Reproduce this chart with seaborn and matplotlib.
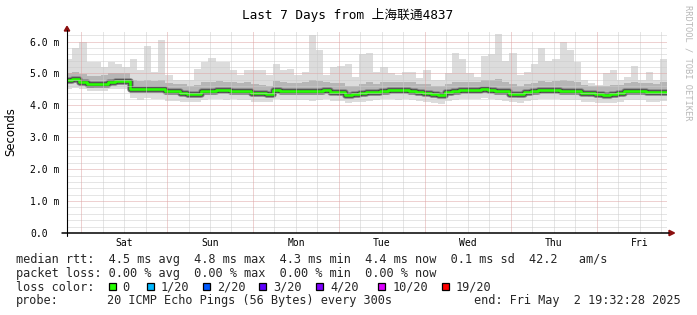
import numpy as np
import pandas as pd
import matplotlib
matplotlib.use("Agg")
import matplotlib.pyplot as plt
from matplotlib.patches import Rectangle, Polygon
from matplotlib.lines import Line2D
import seaborn as sns

# ---------------- data ----------------
title = "Last 7 Days from 上海联通4837"
day_labels = ["Sat", "Sun", "Mon", "Tue", "Wed", "Thu", "Fri"]
y_tick_values = [0, 1, 2, 3, 4, 5, 6]
y_tick_labels = ["0.0", "1.0 m", "2.0 m", "3.0 m", "4.0 m", "5.0 m", "6.0 m"]
bin_hours = 2  # each value covers 2 hours, starting Fri Apr 25 19:32:28
first_midnight_h = 4.459  # hours from start to Sat 00:00

rtt_median = [4.79, 4.82, 4.72, 4.66, 4.67, 4.68, 4.74, 4.76, 4.76, 4.50,
              4.50, 4.50, 4.50, 4.51, 4.45, 4.44, 4.40, 4.36, 4.35, 4.45,
              4.46, 4.47, 4.47, 4.46, 4.45, 4.44, 4.39, 4.38, 4.35, 4.48,
              4.46, 4.44, 4.44, 4.45, 4.45, 4.46, 4.47, 4.43, 4.41, 4.34,
              4.36, 4.38, 4.42, 4.42, 4.46, 4.47, 4.47, 4.47, 4.46, 4.41,
              4.40, 4.35, 4.34, 4.42, 4.45, 4.47, 4.47, 4.48, 4.50, 4.48,
              4.46, 4.44, 4.37, 4.36, 4.41, 4.44, 4.47, 4.47, 4.47, 4.46,
              4.45, 4.45, 4.40, 4.39, 4.35, 4.34, 4.35, 4.39, 4.44, 4.45,
              4.45, 4.43, 4.43, 4.41]

rtt_max = [5.45, 5.80, 6.00, 5.35, 5.35, 5.20, 5.35, 5.30, 5.20, 5.45,
           5.10, 5.85, 5.05, 6.05, 4.95, 4.80, 4.80, 4.80, 5.15, 5.35,
           5.50, 5.35, 5.35, 5.10, 4.95, 5.10, 5.10, 5.10, 4.95, 5.30,
           5.10, 5.15, 4.95, 5.05, 6.20, 5.75, 4.95, 5.20, 5.25, 5.30,
           4.90, 5.60, 5.65, 5.05, 5.20, 5.00, 4.95, 5.05, 5.05, 4.85,
           5.10, 4.80, 4.80, 5.00, 5.65, 5.45, 5.00, 4.90, 5.55, 5.60,
           6.25, 5.40, 5.65, 4.95, 5.05, 5.30, 5.80, 5.40, 5.45, 6.00,
           5.75, 5.35, 4.80, 4.70, 4.65, 5.00, 5.10, 4.80, 4.90, 5.25,
           4.80, 5.05, 4.80, 5.45]

rtt_p80 = [5.02, 5.05, 4.98, 4.92, 4.93, 4.95, 5.00, 5.00, 5.00, 4.78,
           4.76, 4.80, 4.75, 4.80, 4.70, 4.68, 4.66, 4.62, 4.65, 4.72,
           4.74, 4.76, 4.74, 4.72, 4.70, 4.72, 4.66, 4.64, 4.62, 4.76,
           4.72, 4.70, 4.70, 4.72, 4.78, 4.76, 4.72, 4.70, 4.70, 4.62,
           4.62, 4.68, 4.72, 4.68, 4.72, 4.72, 4.72, 4.74, 4.72, 4.66,
           4.66, 4.60, 4.60, 4.68, 4.74, 4.74, 4.72, 4.74, 4.78, 4.80,
           4.82, 4.72, 4.66, 4.62, 4.66, 4.70, 4.76, 4.74, 4.76, 4.80,
           4.76, 4.72, 4.64, 4.62, 4.60, 4.62, 4.64, 4.64, 4.70, 4.72,
           4.70, 4.70, 4.68, 4.72]

rtt_p20 = [4.68, 4.70, 4.62, 4.56, 4.57, 4.58, 4.63, 4.65, 4.65, 4.38,
           4.38, 4.38, 4.38, 4.39, 4.33, 4.32, 4.28, 4.24, 4.23, 4.33,
           4.34, 4.35, 4.35, 4.34, 4.33, 4.32, 4.27, 4.26, 4.23, 4.36,
           4.34, 4.32, 4.32, 4.33, 4.33, 4.34, 4.35, 4.31, 4.29, 4.22,
           4.24, 4.26, 4.30, 4.30, 4.34, 4.35, 4.35, 4.35, 4.34, 4.29,
           4.28, 4.23, 4.22, 4.30, 4.33, 4.35, 4.35, 4.36, 4.38, 4.36,
           4.34, 4.32, 4.25, 4.24, 4.29, 4.32, 4.35, 4.35, 4.35, 4.34,
           4.33, 4.33, 4.28, 4.27, 4.23, 4.22, 4.23, 4.27, 4.32, 4.33,
           4.33, 4.31, 4.31, 4.29]

rtt_min = [4.52, 4.55, 4.50, 4.45, 4.45, 4.46, 4.50, 4.52, 4.50, 4.22,
           4.18, 4.22, 4.20, 4.20, 4.15, 4.15, 4.12, 4.10, 4.10, 4.18,
           4.20, 4.20, 4.18, 4.20, 4.18, 4.16, 4.12, 4.12, 4.10, 4.20,
           4.18, 4.16, 4.16, 4.18, 4.15, 4.18, 4.20, 4.15, 4.14, 4.06,
           4.10, 4.12, 4.15, 4.16, 4.20, 4.20, 4.18, 4.20, 4.18, 4.14,
           4.12, 4.08, 4.05, 4.14, 4.18, 4.20, 4.20, 4.20, 4.22, 4.20,
           4.18, 4.15, 4.10, 4.08, 4.14, 4.18, 4.20, 4.20, 4.20, 4.18,
           4.18, 4.16, 4.12, 4.10, 4.08, 4.06, 4.08, 4.10, 4.16, 4.18,
           4.16, 4.10, 4.12, 4.14]

legend_rtt = "median rtt:  4.5 ms avg  4.8 ms max  4.3 ms min  4.4 ms now  0.1 ms sd  42.2   am/s"
legend_loss = "packet loss: 0.00 % avg  0.00 % max  0.00 % min  0.00 % now"
loss_labels = ["0", "1/20", "2/20", "3/20", "4/20", "10/20", "19/20"]
loss_colors = ["#26ff00", "#00b8ff", "#0059ff", "#5e00ff", "#7e00ff", "#dd00ff", "#ff0000"]
probe_text = "20 ICMP Echo Pings (56 Bytes) every 300s"
end_text = "end: Fri May  2 19:32:28 2025"
credit = "RRDTOOL / TOBI OETIKER"

# ---------------- style ----------------
sns.set_style("white")
plt.rcParams["font.family"] = ["DejaVu Sans Mono", "Noto Sans CJK SC"]

W, H = 697, 315
fig = plt.figure(figsize=(W / 100, H / 100), dpi=100)
fig.patch.set_facecolor("white")


def fx(x):
    return x / W


def fy(y):
    return 1 - y / H


ax = fig.add_axes([fx(67), fy(233), 600 / W, 201 / H])
ax.set_facecolor("white")
ax.set_xlim(0.55, 168.0)
ax.set_ylim(0, 6.3)
for s in ax.spines.values():
    s.set_visible(False)

# time edges for step drawing
n = len(rtt_median)
edges = [i * bin_hours for i in range(n + 1)]


def ext(a):
    return list(a) + [a[-1]]


df = pd.DataFrame({"hour": edges, "median": ext(rtt_median)})

ax.fill_between(edges, ext(rtt_min), ext(rtt_max), step="post",
                color="#dcdcdc", lw=0, zorder=1)
ax.fill_between(edges, ext(rtt_p20), ext(rtt_p80), step="post",
                color="#b6b6b6", lw=0, zorder=2)
sns.lineplot(data=df, x="hour", y="median", drawstyle="steps-post",
             color="#858585", lw=6.5 * 0.72, ax=ax, legend=False, zorder=3)
sns.lineplot(data=df, x="hour", y="median", drawstyle="steps-post",
             color="#474747", lw=4.5 * 0.72, ax=ax, legend=False, zorder=4)
sns.lineplot(data=df, x="hour", y="median", drawstyle="steps-post",
             color=loss_colors[0], lw=2.6 * 0.72, ax=ax, legend=False, zorder=5)

# grid (drawn on top like rrdtool), 1px dotted
dot = (0, (1, 1))
minor_c = "#cccccc"
major_c = "#dea4a4"
for k in range(1, 32):
    v = k * 0.2
    if k % 5 == 0:
        continue
    ax.axhline(v, color=minor_c, lw=0.72, ls=dot, zorder=6)
for v in y_tick_values[1:]:
    ax.axhline(v, color=major_c, lw=0.72, ls=dot, zorder=7)
k = 0
while first_midnight_h + k * 6 < 168.0:
    t = first_midnight_h + k * 6
    is_major = (k % 4 == 0)
    ax.axvline(t, color=(major_c if is_major else minor_c), lw=0.72, ls=dot,
               zorder=7 if is_major else 6)
    k += 1

# ticks and labels
ax.set_yticks(y_tick_values)
ax.set_yticklabels(y_tick_labels)
ax.tick_params(axis="y", length=2.2, width=0.72, color="#000000", direction="out",
               pad=24.5, labelsize=7.0, labelcolor="#000000")
for lab in ax.get_yticklabels():
    lab.set_horizontalalignment("left")
    lab.set_family("DejaVu Sans Mono")

noon = [first_midnight_h + 12 + 24 * i for i in range(len(day_labels))]
ax.set_xticks(noon)
ax.set_xticklabels(day_labels)
ax.tick_params(axis="x", length=0, pad=3.6, labelsize=7.0, labelcolor="#000000")
for lab in ax.get_xticklabels():
    lab.set_family("DejaVu Sans Mono")
ax.set_xlabel("")
ax.set_ylabel("")

# axis lines and arrows (figure pixel coordinates)
fig.add_artist(Line2D([fx(67), fx(67)], [fy(236), fy(30)], color="#000000", lw=0.8))
fig.add_artist(Line2D([fx(62), fx(669)], [fy(233), fy(233)], color="#000000", lw=1.1))
fig.add_artist(Polygon([(fx(64.3), fy(31)), (fx(69.7), fy(31)), (fx(67), fy(26.3))],
                       closed=True, color="#8b0e0e", transform=fig.transFigure))
fig.add_artist(Polygon([(fx(669), fy(230.3)), (fx(669), fy(235.7)), (fx(674.5), fy(233))],
                       closed=True, color="#8b0e0e", transform=fig.transFigure))

# titles
fig.text(fx(348), fy(19), title, ha="center", va="baseline", fontsize=9.2,
         family=["DejaVu Sans Mono", "Noto Sans CJK SC"], color="#000000")
fig.text(fx(11), fy(132), "Seconds", rotation=90, ha="center", va="center",
         fontsize=8.4, family="DejaVu Sans", color="#000000")
fig.text(fx(688), fy(5), credit, rotation=270, ha="center", va="top",
         fontsize=6.3, family="DejaVu Sans Mono", color="#b8b8b8")

# legend rows
fs = 8.58
mono = "DejaVu Sans Mono"
fig.text(fx(16), fy(263.3), legend_rtt, ha="left", va="baseline", fontsize=fs, family=mono)
fig.text(fx(16), fy(276.9), legend_loss, ha="left", va="baseline", fontsize=fs, family=mono)
fig.text(fx(16), fy(290.6), "loss color:", ha="left", va="baseline", fontsize=fs, family=mono)
box_x = [108.7, 146.7, 203.0, 259.3, 316.3, 378.3, 441.8]
for bx, lab, col in zip(box_x, loss_labels, loss_colors):
    fig.add_artist(Rectangle((fx(bx), fy(290.3)), 7 / W, 7 / H, facecolor=col,
                             edgecolor="#000000", lw=0.9, transform=fig.transFigure))
    fig.text(fx(bx + 14), fy(290.6), lab, ha="left", va="baseline", fontsize=fs, family=mono)
fig.text(fx(16), fy(304.3), "probe:", ha="left", va="baseline", fontsize=fs, family=mono)
fig.text(fx(107), fy(304.3), probe_text, ha="left", va="baseline", fontsize=fs, family=mono)
fig.text(fx(680.5), fy(304.3), end_text, ha="right", va="baseline", fontsize=fs, family=mono)

fig.savefig("out.png", dpi=100, facecolor="white")
